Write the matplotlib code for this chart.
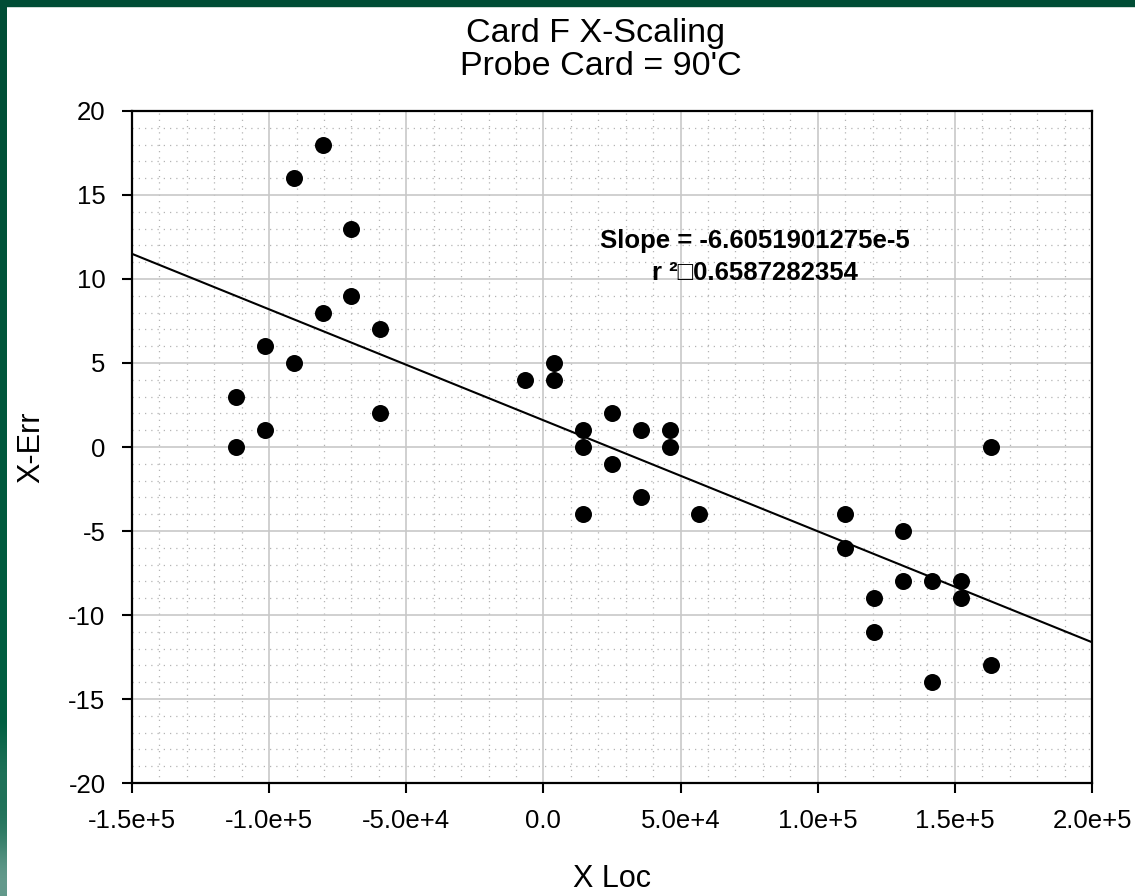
import numpy as np
import matplotlib
matplotlib.use("Agg")
import matplotlib.pyplot as plt
from matplotlib.ticker import MultipleLocator

plt.rcParams['font.family'] = ['Liberation Sans', 'DejaVu Sans']
plt.rcParams['axes.unicode_minus'] = False

# ---- data ----
x_loc = [-112000, -112000, -101500, -101500, -91000, -91000, -80500, -80500,
         -70000, -70000, -59500, -59500, -6700, 3900, 3900, 14400, 14400, 14400,
         25000, 25000, 35600, 35600, 46200, 46200, 56800,
         110000, 110000, 120500, 120500, 131000, 131000, 141600, 141600,
         152200, 152200, 163000, 163000]
x_err = [3, 0, 6, 1, 16, 5, 18, 8,
         13, 9, 7, 2, 4, 5, 4, 1, 0, -4,
         2, -1, 1, -3, 1, 0, -4,
         -4, -6, -9, -11, -5, -8, -8, -14,
         -8, -9, 0, -13]
slope = -6.6051901275e-5
intercept = 1.59
slope_text = "Slope = -6.6051901275e-5"
r2_text = "r \u00b2\u25a10.6587282354"
x_ticks = [-1.5e5, -1.0e5, -5.0e4, 0.0, 5.0e4, 1.0e5, 1.5e5, 2.0e5]
x_tick_labels = ["-1.5e+5", "-1.0e+5", "-5.0e+4", "0.0", "5.0e+4", "1.0e+5", "1.5e+5", "2.0e+5"]
y_ticks = [-20, -15, -10, -5, 0, 5, 10, 15, 20]
title_lines = ["Card F X-Scaling", "Probe Card = 90'C"]

W, H = 1135, 896
fig = plt.figure(figsize=(W / 100, H / 100), dpi=100)
fig.patch.set_facecolor("white")

# green frame strips (left and top)
green = "#004d35"
fig.patches.append(plt.Rectangle((0, 1 - 6 / H), 1, 6 / H, transform=fig.transFigure,
                                 color=green, zorder=0))
strip = fig.add_axes([0, 0, 7 / W, 1])
grad = np.ones((H, 1, 3))
c_top = np.array([0, 77, 53]) / 255
c_mid = np.array([0, 95, 65]) / 255
c_light = np.array([110, 160, 148]) / 255
for i in range(H):
    if i < 720:
        grad[i, 0] = c_top + (c_mid - c_top) * i / 720
    else:
        t = (i - 720) / (H - 720)
        wave = 0.5 + 0.5 * np.sin(t * 9)
        grad[i, 0] = c_mid + (c_light - c_mid) * (t * 0.6 + 0.4 * wave * t)
strip.imshow(grad, aspect="auto", extent=[0, 1, 0, 1])
strip.axis("off")

ax = fig.add_axes([132 / W, 1 - 783 / H, 960 / W, 672 / H])

ax.scatter(x_loc, x_err, s=150, color="black", zorder=3, linewidths=0)

xl = np.array([x_ticks[0], x_ticks[-1]])
ax.plot(xl, slope * xl + intercept, color="black", lw=1.5, zorder=2)

ax.set_xlim(x_ticks[0], x_ticks[-1])
ax.set_ylim(y_ticks[0], y_ticks[-1])
ax.set_xticks(x_ticks)
ax.set_xticklabels(x_tick_labels)
ax.set_yticks(y_ticks)
ax.xaxis.set_minor_locator(MultipleLocator(1e4))
ax.yaxis.set_minor_locator(MultipleLocator(1))

ax.grid(which="major", color="#c8c8c8", lw=1.2, ls="-", zorder=0)
ax.grid(which="minor", color="#b4b4b4", lw=0.9, ls=(0, (1, 4)), zorder=0)
ax.set_axisbelow(True)

for s in ax.spines.values():
    s.set_linewidth(1.6)
ax.tick_params(which="major", direction="out", length=7, width=1.5, labelsize=18.5, pad=12)
ax.tick_params(which="minor", length=0)

ax.set_xlabel("X Loc", fontsize=22, labelpad=22)
ax.set_ylabel("X-Err", fontsize=22, labelpad=16)

fig.text(595 / W, 1 - 42 / H, title_lines[0], ha="center", va="baseline", fontsize=24.5)
fig.text(601 / W, 1 - 75 / H, title_lines[1], ha="center", va="baseline", fontsize=24.5)

cx = (755 - 132) / 960
ax.text(cx, (783 - 248) / 672, slope_text, transform=ax.transAxes,
        ha="center", va="baseline", fontsize=18.5, fontweight="bold")
ax.text(cx, (783 - 280) / 672, r2_text, transform=ax.transAxes,
        ha="center", va="baseline", fontsize=18.5, fontweight="bold")

fig.savefig("out.png", dpi=100)
